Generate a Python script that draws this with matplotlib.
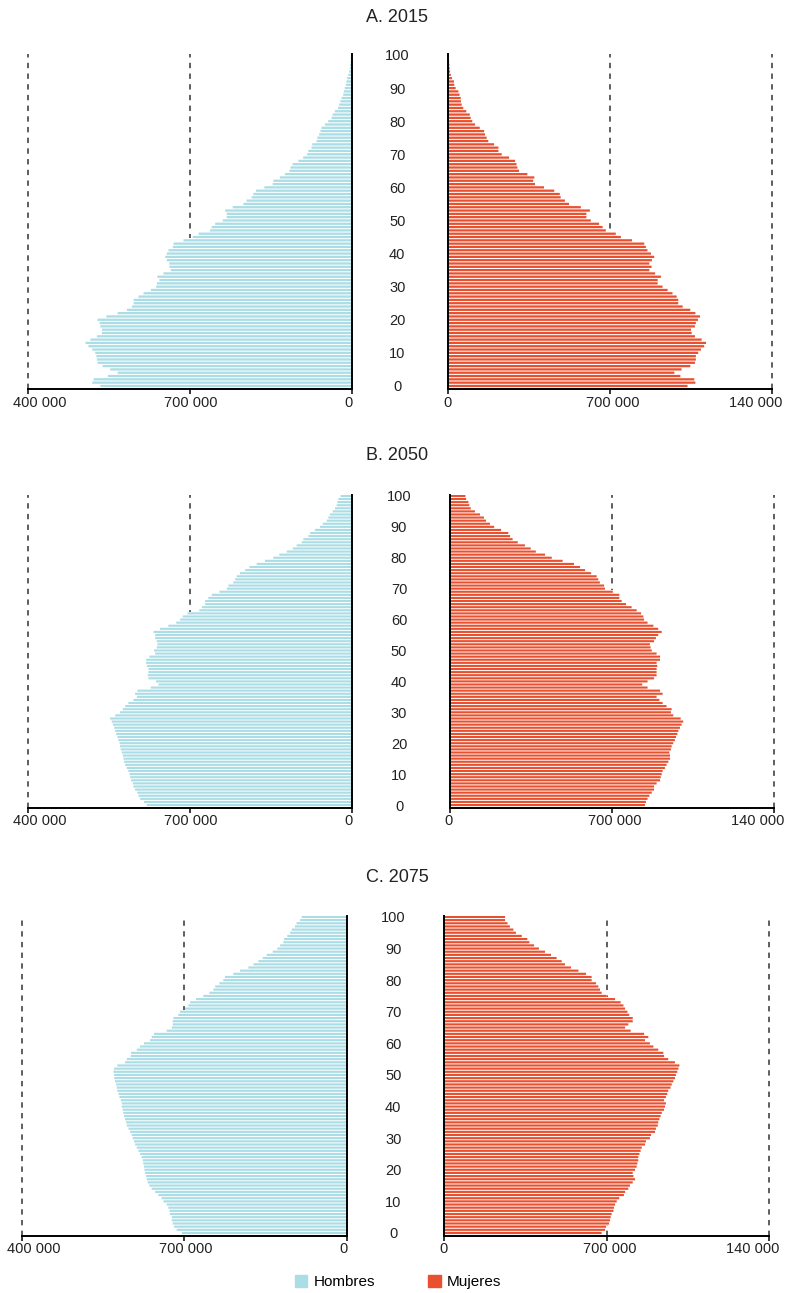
import numpy as np
import matplotlib
matplotlib.use("Agg")
import matplotlib.pyplot as plt
from matplotlib.patches import Patch

plt.rcParams['font.family'] = ['Liberation Sans', 'DejaVu Sans']

ages = np.arange(0, 101)
age_ticks = list(range(0, 101, 10))
x_ticks = [0, 700000, 1400000]
left_labels = ['0', '700 000', '400 000']
right_labels = ['0', '700 000', '140 000']
titles = ['A. 2015', 'B. 2050', 'C. 2075']
legend_labels = ['Hombres', 'Mujeres']

# población por edad simple (miles)
hombres_2015 = [1087, 1122, 1116, 1054, 1012, 1044, 1077, 1099, 1102, 1104,
                1109, 1122, 1138, 1151, 1130, 1102, 1080, 1080, 1087, 1090,
                1099, 1061, 1012, 972, 950, 943, 943, 922, 900, 868,
                845, 842, 831, 840, 814, 782, 788, 789, 799, 806,
                799, 792, 773, 770, 727, 687, 662, 612, 605, 590,
                557, 540, 540, 547, 514, 468, 454, 432, 425, 413,
                377, 341, 338, 310, 288, 269, 264, 255, 230, 209,
                192, 187, 173, 170, 151, 148, 140, 134, 130, 115,
                101, 86, 82, 72, 58, 53, 48, 43, 36, 33,
                29, 24, 22, 19, 14, 10, 7, 6, 4, 3, 2]
mujeres_2015 = [1035, 1069, 1064, 1004, 978, 1009, 1047, 1067, 1071, 1071,
                1081, 1093, 1107, 1115, 1096, 1067, 1053, 1050, 1067, 1071,
                1080, 1089, 1069, 1047, 1014, 995, 995, 988, 970, 949,
                927, 906, 906, 920, 895, 870, 880, 870, 881, 891,
                877, 862, 855, 848, 795, 747, 725, 682, 668, 653,
                617, 598, 598, 613, 574, 523, 505, 487, 483, 459,
                415, 376, 368, 373, 343, 307, 300, 296, 290, 264,
                232, 218, 218, 199, 174, 167, 160, 156, 137, 117,
                105, 98, 94, 79, 66, 59, 56, 55, 50, 45,
                33, 27, 26, 17, 12, 9, 7, 6, 5, 4, 3]
hombres_2050 = [886, 898, 915, 922, 927, 937, 944, 947, 954, 958,
                961, 966, 973, 980, 984, 987, 990, 994, 999, 1002,
                1004, 1009, 1013, 1019, 1023, 1027, 1033, 1038, 1045, 1023,
                1002, 990, 980, 966, 944, 929, 937, 927, 869, 836,
                846, 879, 882, 879, 879, 886, 889, 889, 875, 850,
                855, 843, 840, 843, 850, 850, 857, 829, 793, 759,
                742, 731, 710, 659, 648, 634, 634, 620, 605, 572,
                540, 533, 512, 504, 497, 483, 461, 442, 411, 375,
                339, 313, 281, 255, 238, 216, 209, 187, 180, 159,
                137, 125, 108, 101, 94, 82, 72, 65, 62, 58, 48]
mujeres_2050 = [844, 848, 855, 863, 873, 883, 883, 894, 909, 912,
                916, 920, 930, 937, 945, 952, 952, 949, 956, 959,
                966, 973, 978, 984, 988, 995, 1002, 1009, 998, 966,
                956, 959, 937, 920, 906, 894, 920, 909, 855, 832,
                855, 883, 894, 894, 894, 897, 894, 909, 909, 894,
                873, 868, 865, 883, 891, 901, 916, 901, 880, 855,
                840, 837, 827, 808, 786, 762, 743, 733, 733, 705,
                671, 667, 649, 642, 635, 611, 585, 563, 537, 488,
                441, 412, 372, 350, 325, 294, 272, 261, 253, 222,
                192, 174, 157, 148, 131, 109, 91, 85, 81, 71, 68]
hombres_2075 = [711, 733, 744, 750, 754, 754, 762, 764, 769, 776,
                790, 798, 812, 826, 841, 851, 858, 862, 865, 869,
                872, 874, 877, 879, 884, 891, 898, 905, 912, 917,
                923, 927, 934, 941, 948, 951, 956, 960, 963, 966,
                970, 970, 974, 980, 984, 989, 992, 994, 999, 1002,
                1003, 1006, 1003, 989, 956, 948, 931, 930, 905, 891,
                874, 848, 841, 831, 776, 754, 750, 750, 747, 726,
                719, 697, 683, 675, 650, 618, 592, 575, 567, 549,
                532, 525, 489, 460, 424, 402, 381, 362, 345, 319,
                299, 287, 273, 270, 256, 244, 237, 223, 216, 201, 194]
mujeres_2075 = [679, 694, 698, 711, 715, 718, 722, 730, 732, 737,
                744, 755, 775, 780, 794, 801, 813, 823, 816, 813,
                823, 830, 833, 837, 837, 842, 847, 852, 866, 870,
                887, 892, 909, 913, 921, 923, 928, 933, 938, 948,
                952, 956, 948, 956, 962, 966, 976, 981, 988, 995,
                999, 1005, 1010, 1014, 995, 966, 948, 945, 923, 902,
                887, 866, 880, 862, 804, 780, 794, 813, 813, 798,
                790, 780, 773, 761, 737, 701, 679, 672, 665, 655,
                636, 636, 612, 579, 547, 521, 507, 485, 461, 435,
                409, 388, 368, 359, 335, 310, 299, 284, 274, 263, 263]

hombres = [hombres_2015, hombres_2050, hombres_2075]
mujeres = [mujeres_2015, mujeres_2050, mujeres_2075]

C_H = '#aadde5'
C_M = '#e8502f'
W, H = 788, 1293


def rect(x0, x1, y0, y1):
    return [x0 / W, 1 - y1 / H, (x1 - x0) / W, (y1 - y0) / H]


# pixel layout of each panel: left x, right x, top, bottom, title y
panels = [
    ((28, 351.5), (448, 772), 54, 388.6, 17),
    ((28, 351.7), (449.7, 773.7), 495, 807.5, 456),
    ((22, 346.7), (444, 769), 916, 1235.5, 877),
]

fig = plt.figure(figsize=(7.88, 12.93), dpi=100)


def style_axis(ax, spine, labels, offsets):
    for s in ['top', 'left', 'right', 'bottom']:
        ax.spines[s].set_visible(s in (spine, 'bottom'))
    ax.spines[spine].set_linewidth(1.4)
    ax.spines['bottom'].set_linewidth(1.4)
    ax.set_ylim(-0.8, 100.3)
    ax.set_xticks(x_ticks)
    ax.set_xticklabels([])
    ax.tick_params(axis='x', length=3.5, width=1.1)
    for xv, lab, dx in zip(x_ticks, labels, offsets):
        ax.annotate(lab, xy=(xv, 0), xycoords=('data', 'axes fraction'),
                    xytext=(dx * 0.72, -5), textcoords='offset points',
                    ha='center', va='top', fontsize=10.5, color='#222222')
    for xv in x_ticks[1:]:
        ax.axvline(xv, color='#333333', lw=1.1, ls=(0, (3.5, 3.5)), zorder=1, clip_on=False)


def draw_bars(ax, vals, color):
    # white backing hides the dashed guides behind the pyramid
    ax.barh(ages, vals, height=1.15, color='white', zorder=1.5)
    front = ax.barh(ages, vals, height=0.68, color=color, zorder=2)
    for p in front:
        p.set_snap(False)


for i, (lx, rx, top, bot, ty) in enumerate(panels):
    h = np.array(hombres[i]) * 1000
    m = np.array(mujeres[i]) * 1000

    axl = fig.add_axes(rect(lx[0], lx[1], top, bot))
    draw_bars(axl, h, C_H)
    axl.set_xlim(1400000, 0)
    axl.set_yticks([])
    style_axis(axl, 'right', left_labels, [-3, 1, 12])

    axr = fig.add_axes(rect(rx[0], rx[1], top, bot))
    draw_bars(axr, m, C_M)
    axr.set_xlim(0, 1400000)
    style_axis(axr, 'left', right_labels, [-1, 3, -16])
    axr.set_yticks(age_ticks)
    axr.set_yticklabels([str(a) for a in age_ticks], fontsize=10.5, color='#222222')
    axr.tick_params(axis='y', length=0, pad=36.5)
    for lab in axr.get_yticklabels():
        lab.set_ha('center')

    fig.text(397 / W, 1 - ty / H, titles[i], ha='center', va='center',
             fontsize=13, color='#222222')

handles = [Patch(color=C_H, label=legend_labels[0]),
           Patch(color=C_M, label=legend_labels[1])]
fig.legend(handles=handles, loc='center', bbox_to_anchor=(398 / W, 1 - 1282 / H),
           ncol=2, frameon=False, fontsize=11, handlelength=0.8, handleheight=0.8,
           handletextpad=0.4, columnspacing=3.5)

fig.savefig('out.png', dpi=100)
